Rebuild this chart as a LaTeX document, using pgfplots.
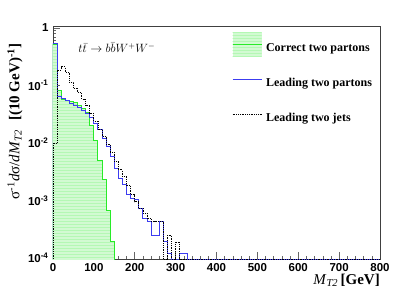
\documentclass[border=0pt]{standalone}
\usepackage{fontspec}
\setmainfont{Liberation Serif}
\setsansfont{Liberation Sans}
\usepackage{pgfplots}
\pgfplotsset{compat=1.18}
\usetikzlibrary{patterns}
\definecolor{hgreen}{RGB}{40,235,40}
\definecolor{hfill}{RGB}{210,250,210}
\definecolor{hblue}{RGB}{60,60,240}
\begin{document}
\begin{tikzpicture}
\path[use as bounding box] (-53pt,-32pt) rectangle (354pt,259pt);
\begin{semilogyaxis}[
  width=327pt, height=233pt, scale only axis,
  xmin=0, xmax=800, ymin=9.6e-5, ymax=1.08,
  xtick={0,100,...,800}, minor x tick num=4,
  ytick={1e-4,1e-3,1e-2,1e-1,1},
  yticklabels={10\textsuperscript{-4},10\textsuperscript{-3},10\textsuperscript{-2},10\textsuperscript{-1},1},
  minor ytick={2e-4,3e-4,4e-4,5e-4,6e-4,7e-4,8e-4,9e-4,2e-3,3e-3,4e-3,5e-3,6e-3,7e-3,8e-3,9e-3,2e-2,3e-2,4e-2,5e-2,6e-2,7e-2,8e-2,9e-2,2e-1,3e-1,4e-1,5e-1,6e-1,7e-1,8e-1,9e-1},
  tick align=inside, tick pos=left,
  major tick length=7pt, minor tick length=3.5pt,
  tick style={black!60, line width=0.5pt},
  axis line style={black!75, line width=0.6pt},
  ticklabel style={font=\fontsize{11.5}{13}\selectfont\sffamily\bfseries},
  /pgf/number format/assume math mode=true,
  xticklabel style={yshift=-1pt},
  yticklabel style={xshift=-1pt},
  xlabel={\textit{M}\textsubscript{\textit{T2}}\,\textbf{[GeV]}},
  xlabel style={font=\fontsize{15}{17}\selectfont, at={(axis description cs:1,-0.09)}, anchor=east, inner sep=0pt},
  ylabel={σ\textsuperscript{-1}\textit{d}σ/\textit{dM}\textsubscript{\textit{T2}}\hspace{0.6em}\textbf{[(10 GeV)\textsuperscript{-1}]}},
  ylabel style={font=\fontsize{15}{17}\selectfont, at={(axis description cs:-0.1162,0.925)}, anchor=east, inner sep=0pt},
  legend style={draw=none, fill=none, at={(axis description cs:0.547,0.975)}, anchor=north west,
    font=\fontsize{12}{14}\selectfont\bfseries, row sep=10pt, inner sep=0pt, column sep=2pt},
  legend cell align=left,
]
\addplot[forget plot, const plot, draw=hgreen, line width=1pt, fill=hfill,
  postaction={pattern=horizontal lines, pattern color=hgreen!35}] coordinates {
(0,1e-6) (0,0.52) (10,0.083) (20,0.058) (30,0.055) (40,0.052) (50,0.050) (60,0.045)
(70,0.040) (80,0.034) (90,0.020) (100,0.011) (110,0.005) (120,0.0023) (130,0.00068)
(140,0.00019) (150,0.00019) (150,1e-6)
};
\addlegendimage{legend image code/.code={
    \path[draw=none, fill=none] (0pt,-8.5pt) rectangle (29pt,16.5pt);
    \path[draw=none, fill=hfill] (0pt,-8.5pt) rectangle (29pt,16.5pt);
    \begin{scope}
    \path[draw=none, pattern=horizontal lines, pattern color=hgreen!35] (0pt,-8.5pt) rectangle (29pt,16.5pt);
    \end{scope}
    \draw[color=hgreen, line width=1pt] (0pt,4pt) -- (29pt,4pt);}}
\addlegendentry{Correct two partons}
\addplot[forget plot, const plot, draw=hblue, line width=1pt] coordinates {
(0,9.6e-5) (0,0.54) (10,0.063) (20,0.060) (30,0.055) (40,0.048) (50,0.045) (60,0.041)
(70,0.036) (80,0.033) (90,0.028) (100,0.022) (110,0.017) (120,0.012) (130,0.0087)
(140,0.0058) (150,0.0036) (160,0.0024) (170,0.0019) (180,0.00125) (190,0.0011)
(200,0.00102) (210,0.00073) (220,0.00049) (230,0.00043) (240,0.00025) (250,0.00025)
(260,0.00043) (270,0.00019) (280,0.00012) (290,9.6e-5) (300,9.6e-5) (310,0.00012)
(320,0.00012) (330,9.6e-5) (800,9.6e-5)
};
\addlegendimage{legend image code/.code={
    \path[draw=none, fill=none] (0pt,-8.5pt) rectangle (29pt,16.5pt);
    \draw[color=hblue, line width=1pt] (0pt,4pt) -- (29pt,4pt);}}
\addlegendentry{Leading two partons}
\addplot[forget plot, const plot, draw=black, line width=0.8pt, densely dotted] coordinates {
(0,9.6e-5) (0,0.01) (10,0.186) (20,0.21) (30,0.17) (40,0.115) (50,0.09) (60,0.075)
(70,0.058) (80,0.045) (90,0.032) (100,0.024) (110,0.017) (120,0.013) (130,0.0095)
(140,0.0069) (150,0.0048) (160,0.0034) (170,0.0026) (180,0.0018) (190,0.00125)
(200,0.00095) (210,0.00074) (220,0.0006) (230,0.00048) (240,0.00043) (250,0.00043)
(260,0.00043) (270,9.6e-5) (280,0.00025) (290,9.6e-5) (300,0.00019) (310,9.6e-5)
(800,9.6e-5)
};
\addlegendimage{legend image code/.code={
    \path[draw=none, fill=none] (0pt,-8.5pt) rectangle (29pt,16.5pt);
    \draw[color=black, line width=0.8pt, densely dotted] (0pt,4pt) -- (29pt,4pt);}}
\addlegendentry{Leading two jets}
\node[anchor=west, font=\fontsize{12}{14}\selectfont] at (axis description cs:0.067,0.906)
  {$t\bar{t}\rightarrow b\bar{b}W^{+}W^{-}$};
\end{semilogyaxis}
\end{tikzpicture}
\end{document}
